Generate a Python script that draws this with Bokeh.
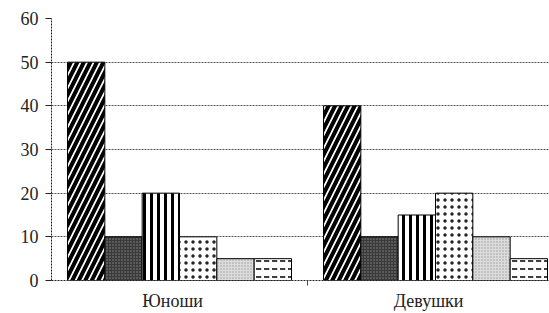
from bokeh.plotting import figure
from bokeh.models import Range1d, FixedTicker, ColumnDataSource
from bokeh.embed import file_html
from bokeh.resources import INLINE
import numpy as np

# ---- data ----
groups = ["Юноши", "Девушки"]
series_names = ["s1", "s2", "s3", "s4", "s5", "s6"]
values_boys = [50, 10, 20, 10, 5, 5]
values_girls = [40, 10, 15, 20, 10, 5]
y_ticks = [0, 10, 20, 30, 40, 50, 60]

values = np.array([values_boys, values_girls])  # shape (groups, series)

# ---- styles (one per series) ----
styles = [
    dict(fill_color="white", hatch_pattern="/", hatch_color="black", hatch_weight=4, hatch_scale=13),
    dict(fill_color="#3a3a3a", hatch_pattern=".", hatch_color="#8a8a8a", hatch_weight=1, hatch_scale=3),
    dict(fill_color="white", hatch_pattern="|", hatch_color="black", hatch_weight=3, hatch_scale=7),
    dict(fill_color="white", hatch_pattern=".", hatch_color="#222", hatch_weight=1.3, hatch_scale=7),
    dict(fill_color="#dcdcdc", hatch_pattern=".", hatch_color="#9a9a9a", hatch_weight=1, hatch_scale=3),
    dict(fill_color="white", hatch_pattern='"', hatch_color="black", hatch_weight=1.5, hatch_scale=8),
]

n_series = len(series_names)
group_span = 0.875
bar_w = group_span / n_series

p = figure(width=549, height=313, output_backend="svg", toolbar_location=None,
           x_range=Range1d(0, 498 / 256), y_range=Range1d(0, 60),
           min_border_left=51, min_border_right=0, min_border_top=18, min_border_bottom=32)
p.outline_line_color = None
p.background_fill_color = "white"
p.border_fill_color = "white"

centers = np.arange(len(groups)) + 0.5
for j in range(n_series):
    xs = centers + (j - (n_series - 1) / 2) * bar_w
    src = ColumnDataSource(dict(x=xs, top=values[:, j]))
    p.vbar(x="x", top="top", bottom=0, width=bar_w, source=src,
           line_color="black", line_width=1, **styles[j])

# y axis
p.yaxis.ticker = FixedTicker(ticks=y_ticks)
p.yaxis.axis_line_color = "#222"
p.yaxis.axis_line_dash = "2 1"
p.yaxis.major_tick_out = 6
p.yaxis.major_tick_in = 0
p.yaxis.minor_tick_line_color = None
p.yaxis.major_tick_line_color = "#222"
p.yaxis.major_label_standoff = 7
p.yaxis.major_label_text_font = "Liberation Serif"
p.yaxis.major_label_text_font_size = "18px"
p.yaxis.major_label_text_color = "#222"

# x axis
label_pos = list(centers - 0.027)
p.xaxis.ticker = FixedTicker(ticks=label_pos, minor_ticks=[1.0])
p.xaxis.major_label_overrides = {float(t): g for t, g in zip(label_pos, groups)}
p.xaxis.axis_line_color = "#222"
p.xaxis.axis_line_dash = "2 1"
p.xaxis.major_tick_out = 0
p.xaxis.major_tick_in = 0
p.xaxis.minor_tick_out = 5
p.xaxis.minor_tick_in = 0
p.xaxis.minor_tick_line_color = "#444"
p.xaxis.major_label_standoff = 5
p.xaxis.major_label_text_font = "Liberation Serif"
p.xaxis.major_label_text_font_size = "18px"
p.xaxis.major_label_text_color = "#222"

# grid
p.xgrid.grid_line_color = None
p.ygrid.ticker = FixedTicker(ticks=y_ticks[1:])
p.ygrid.grid_line_color = "#555"
p.ygrid.grid_line_dash = "2 1"
p.ygrid.grid_line_width = 1

open("out.html", "w").write(file_html(p, INLINE))
